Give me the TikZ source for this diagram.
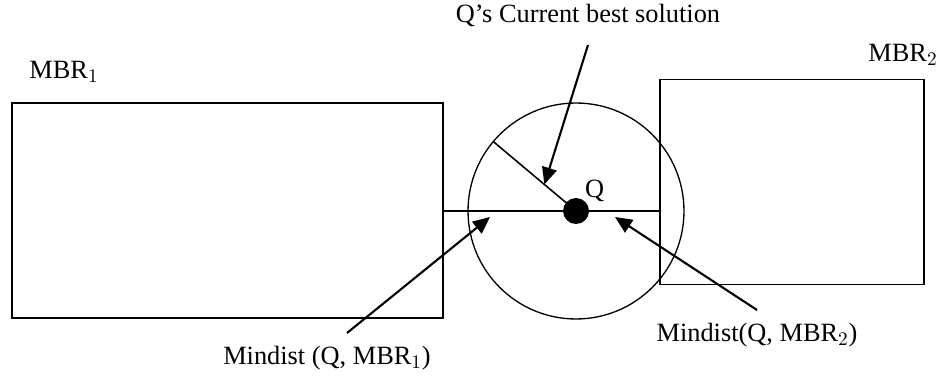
\documentclass[tikz,border=0pt]{standalone}
\usepackage{fontspec}
\setmainfont{Liberation Serif}
\usepackage{tikz}
\usetikzlibrary{arrows.meta,positioning,calc}

\begin{document}
\begin{tikzpicture}[
    x=0.02cm, y=-0.02cm,
    font=\fontsize{15}{18}\selectfont,
    mbr/.style={rectangle,draw,line width=1pt,inner sep=0pt},
    rangecirc/.style={circle,draw,line width=0.75pt,inner sep=0pt,minimum size=4.32cm},
    qpoint/.style={circle,fill=black,inner sep=0pt,minimum size=0.52cm},
    lbltext/.style={inner sep=1pt},
    pointer/.style={line width=1.2pt,-{Triangle[length=3.4mm,width=3mm]}}
  ]
    \useasboundingbox (0,0) rectangle (943,378);

    % Rectangles
    \node[mbr,minimum width=8.62cm,minimum height=4.3cm] (mbr1) at (227.5,210.5) {};
    \node[mbr,minimum width=5.28cm,minimum height=4.1cm] (mbr2) at (792,182) {};
    \node[lbltext] (mbr1-lbl) at (64,72) {MBR$_1$};
    \node[lbltext] (mbr2-lbl) at (903,55) {MBR$_2$};

    % Query point and its range
    \node[rangecirc] (circ) at (576,211) {};
    \node[qpoint] (q) at (576,211) {};
    \node[lbltext,anchor=south west] (q-lbl) at (583,204) {Q};

    % Mindist line between the rectangles
    \draw[line width=0.9pt] (mbr1.east |- q) -- (mbr2.west |- q);

    % Radius
    \draw[line width=0.9pt] (q.center) -- (circ.140);
    \coordinate (rad-mid) at ($(q.center)!0.38!(circ.140)$);

    % Labels
    \node[lbltext] (sol-lbl) at (588,15) {Q's Current best solution};
    \node[lbltext] (md1-lbl) at (327,358) {Mindist (Q, MBR$_1$)};
    \node[lbltext] (md2-lbl) at (757,335) {Mindist(Q, MBR$_2$)};

    % Arrows
    \coordinate (sol-from) at (588,45);
    \coordinate (md1-from) at (347,333);
    \coordinate (md2-from) at (757,310);
    \coordinate (md1-to) at (490,217);
    \coordinate (md2-to) at (615,217);
    \draw[pointer] (sol-from) -- (rad-mid);
    \draw[pointer] (md1-from) -- (md1-to);
    \draw[pointer] (md2-from) -- (md2-to);

  \end{tikzpicture}
\end{document}
